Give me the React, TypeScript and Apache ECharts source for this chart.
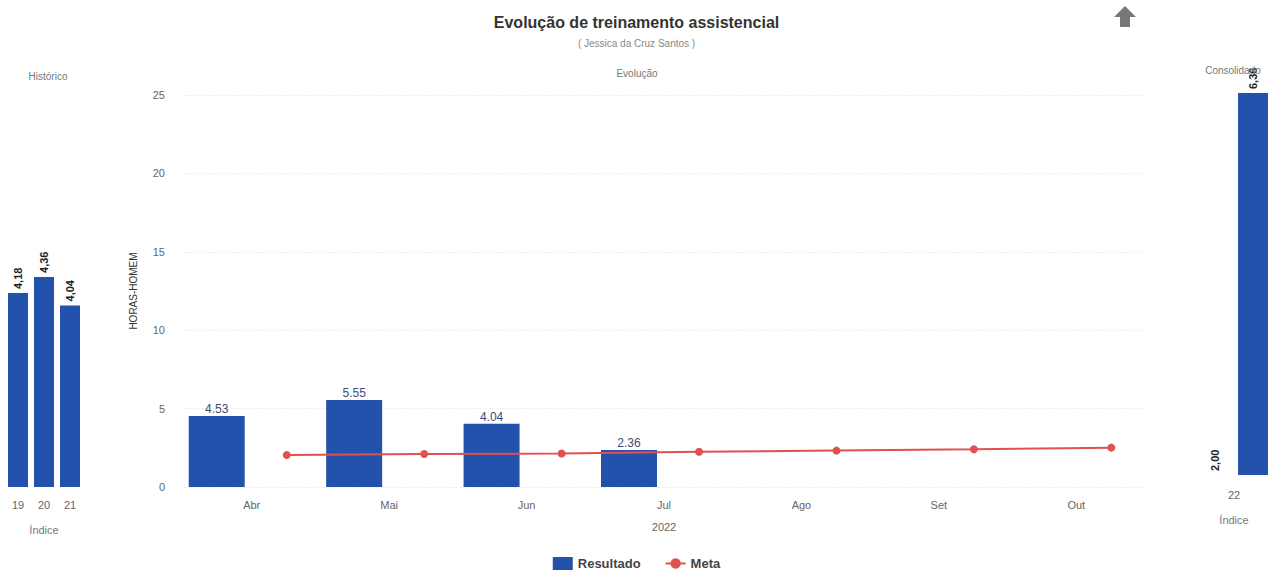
import React, { useEffect, useRef } from 'react';
import * as echarts from 'echarts';

const months = ['Abr', 'Mai', 'Jun', 'Jul', 'Ago', 'Set', 'Out'];
const resultado: (number | null)[] = [4.53, 5.55, 4.04, 2.36, null, null, null];
const meta = [2.04, 2.1, 2.14, 2.25, 2.32, 2.41, 2.51];
const yearLabel = '2022';

const histCategories = ['19', '20', '21'];
const histValues = [4.18, 4.36, 4.04];

const consCategories = ['22'];
const consResultado = [6.36];
const consMeta = [2.0];

const BLUE = '#2352ad';
const RED = '#e0514f';
const FONT = 'Liberation Sans, Arial, sans-serif';

const comma = (v: number) => v.toFixed(2).replace('.', ',');

export default function App() {
  const ref = useRef<HTMLDivElement>(null);
  useEffect(() => {
    if (!ref.current) return;
    const chart = echarts.init(ref.current, undefined, { renderer: 'svg' });
    const rotLabel = {
      show: true,
      position: 'top',
      rotate: 90,
      align: 'left',
      verticalAlign: 'middle',
      distance: 4,
      fontWeight: 'bold',
      fontSize: 11,
      color: '#222',
      fontFamily: FONT,
      formatter: (p: any) => comma(p.value),
    };
    const option: any = {
      animation: false,
      textStyle: { fontFamily: FONT },
      title: [
        {
          text: 'Evolução de treinamento assistencial',
          subtext: '( Jessica da Cruz Santos )',
          left: 'center',
          top: 9,
          itemGap: 8,
          textStyle: { fontSize: 16, fontWeight: 'bold', color: '#333', fontFamily: FONT },
          subtextStyle: { fontSize: 10, color: '#888', fontFamily: FONT },
        },
        { text: 'Evolução', left: 632, top: 63, textAlign: 'center', textStyle: { fontSize: 10, fontWeight: 'normal', color: '#777' } },
        { text: 'Histórico', left: 43, top: 66, textAlign: 'center', textStyle: { fontSize: 10, fontWeight: 'normal', color: '#777' } },
        { text: 'Consolidado', left: 1228, top: 60, textAlign: 'center', textStyle: { fontSize: 10, fontWeight: 'normal', color: '#777' } },
      ],
      legend: {
        bottom: 2,
        left: 'center',
        itemWidth: 20,
        itemHeight: 13,
        itemGap: 24,
        data: [
          { name: 'Resultado', icon: 'rect' },
          { name: 'Meta' },
        ],
        textStyle: { fontSize: 13, fontWeight: 'bold', color: '#444', fontFamily: FONT },
      },
      graphic: [
        {
          type: 'polygon',
          shape: {
            points: [
              [1125, 6], [1136, 17], [1130, 17], [1130, 27], [1120, 27], [1120, 17], [1114, 17],
            ],
          },
          style: { fill: '#777' },
        },
      ],
      grid: [
        { left: 5, width: 78, top: 99, bottom: 90 },
        { left: 183, right: 128, top: 95, bottom: 90 },
        { left: 1200, width: 68, top: 93, bottom: 102 },
      ],
      xAxis: [
        {
          gridIndex: 0,
          type: 'category',
          data: histCategories,
          axisLine: { show: false },
          axisTick: { show: false },
          axisLabel: { color: '#666', fontSize: 11, margin: 12 },
          name: 'Índice',
          nameLocation: 'middle',
          nameGap: 37,
          nameTextStyle: { color: '#777', fontSize: 11 },
        },
        {
          gridIndex: 1,
          type: 'category',
          data: months,
          axisLine: { show: false },
          axisTick: { show: false },
          axisLabel: { color: '#666', fontSize: 11, margin: 12 },
          name: yearLabel,
          nameLocation: 'middle',
          nameGap: 34,
          nameTextStyle: { color: '#666', fontSize: 11 },
        },
        {
          gridIndex: 1,
          type: 'value',
          min: -0.5,
          max: months.length - 0.5,
          show: false,
        },
        {
          gridIndex: 2,
          type: 'category',
          data: consCategories,
          axisLine: { show: false },
          axisTick: { show: false },
          axisLabel: { color: '#666', fontSize: 11, margin: 14 },
          name: 'Índice',
          nameLocation: 'middle',
          nameGap: 39,
          nameTextStyle: { color: '#777', fontSize: 11 },
        },
      ],
      yAxis: [
        { gridIndex: 0, type: 'value', min: 2, max: 6.36, show: false },
        {
          gridIndex: 1,
          type: 'value',
          min: 0,
          max: 25,
          interval: 5,
          axisLine: { show: false },
          axisTick: { show: false },
          axisLabel: { color: '#666', fontSize: 11, margin: 18 },
          splitLine: { lineStyle: { color: '#f0f0f0', type: 'dashed' } },
          name: 'HORAS-HOMEM',
          nameLocation: 'middle',
          nameGap: 45,
          nameRotate: 90,
          nameTextStyle: { color: '#333', fontSize: 10 },
        },
        { gridIndex: 2, type: 'value', min: 2, max: 6.36, show: false },
      ],
      series: [
        {
          name: 'Histórico',
          type: 'bar',
          xAxisIndex: 0,
          yAxisIndex: 0,
          data: histValues,
          barWidth: 20,
          itemStyle: { color: BLUE },
          label: rotLabel,
        },
        {
          name: 'Resultado',
          type: 'bar',
          xAxisIndex: 1,
          yAxisIndex: 1,
          data: resultado.map((v) => (v == null ? '-' : v)),
          barWidth: 56,
          barGap: '25%',
          itemStyle: { color: BLUE },
          label: {
            show: true,
            position: 'top',
            distance: 1,
            fontSize: 12,
            color: '#3c4d75',
            formatter: (p: any) => p.value.toFixed(2),
          },
        },
        {
          name: '_slot',
          type: 'bar',
          xAxisIndex: 1,
          yAxisIndex: 1,
          data: months.map(() => '-'),
          barWidth: 56,
          itemStyle: { color: 'transparent' },
        },
        {
          name: 'Meta',
          type: 'line',
          xAxisIndex: 2,
          yAxisIndex: 1,
          data: meta.map((v, i) => [i + 0.255, v]),
          symbol: 'circle',
          symbolSize: 8,
          itemStyle: { color: RED },
          lineStyle: { color: RED, width: 2 },
        },
        {
          name: 'Meta consolidada',
          type: 'bar',
          xAxisIndex: 3,
          yAxisIndex: 2,
          data: consMeta,
          barWidth: 30,
          barGap: '27%',
          itemStyle: { color: 'transparent' },
          label: rotLabel,
        },
        {
          name: 'Consolidado',
          type: 'bar',
          xAxisIndex: 3,
          yAxisIndex: 2,
          data: consResultado,
          barWidth: 30,
          itemStyle: { color: BLUE },
          label: rotLabel,
        },
      ],
    };
    chart.setOption(option);
    return () => chart.dispose();
  }, []);
  return (
    <div
      ref={ref}
      style={{ position: 'fixed', left: 0, top: 0, width: 1273, height: 577, background: '#fff' }}
    />
  );
}
